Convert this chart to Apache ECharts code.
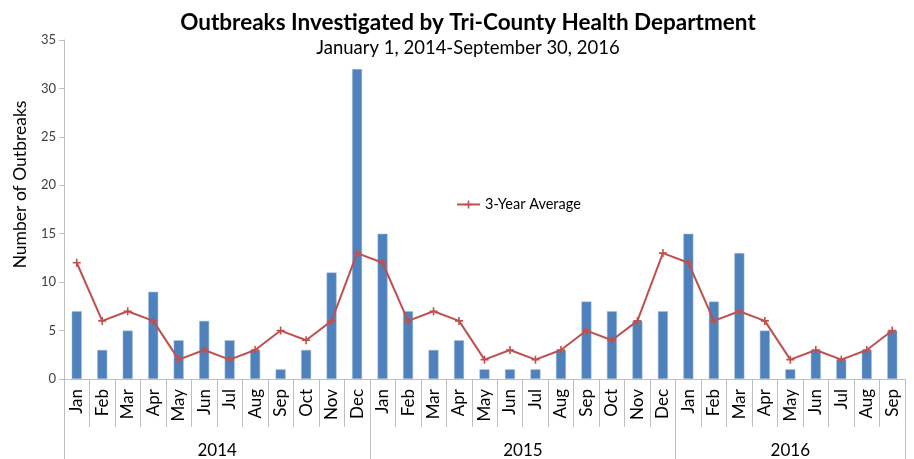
<!DOCTYPE html>
<html>
<head>
<meta charset="utf-8">
<script src="https://cdn.jsdelivr.net/npm/echarts@6/dist/echarts.min.js"></script>
<style>
  html, body { margin: 0; padding: 0; background: #fff; }
  #chart { width: 914px; height: 459px; }
</style>
</head>
<body>
<div id="chart"></div>
<script>
  var months = ["Jan", "Feb", "Mar", "Apr", "May", "Jun", "Jul", "Aug", "Sep", "Oct", "Nov", "Dec",
    "Jan", "Feb", "Mar", "Apr", "May", "Jun", "Jul", "Aug", "Sep", "Oct", "Nov", "Dec",
    "Jan", "Feb", "Mar", "Apr", "May", "Jun", "Jul", "Aug", "Sep"];
  var years = ["2014", "2015", "2016"];
  var yearStart = [0, 12, 24]; // index of first month of each year
  var outbreaks = [7, 3, 5, 9, 4, 6, 4, 3, 1, 3, 11, 32,
    15, 7, 3, 4, 1, 1, 1, 3, 8, 7, 6, 7,
    15, 8, 13, 5, 1, 3, 2, 3, 5];
  var average = [12, 6, 7, 6, 2, 3, 2, 3, 5, 4, 6, 13,
    12, 6, 7, 6, 2, 3, 2, 3, 5, 4, 6, 13,
    12, 6, 7, 6, 2, 3, 2, 3, 5];

  var font = "Lato, 'Open Sans', sans-serif";

  // year of each month, for the second (group) axis
  var yearOfMonth = months.map(function (m, i) {
    var y = 0;
    for (var k = 0; k < yearStart.length; k++) if (i >= yearStart[k]) y = k;
    return years[y];
  });
  // label the middle month of each year group
  var yearLabelIdx = yearStart.map(function (s, k) {
    var end = k + 1 < yearStart.length ? yearStart[k + 1] : months.length;
    return Math.floor((s + end - 1) / 2);
  });
  function yearEven(i) {
    var k = yearLabelIdx.indexOf(i);
    var end = k + 1 < yearStart.length ? yearStart[k + 1] : months.length;
    return (end - yearStart[k]) % 2 === 0;
  }

  var myChart = echarts.init(document.getElementById("chart"));
  var option = {
    backgroundColor: "#ffffff",
    animation: false,
    title: {
      text: "Outbreaks Investigated by Tri-County Health Department",
      subtext: "January 1, 2014-September 30, 2016",
      left: 463,
      textAlign: "center",
      top: 6,
      itemGap: 5,
      textStyle: { fontFamily: font, fontSize: 22.5, fontWeight: "bold", color: "#000" },
      subtextStyle: { fontFamily: font, fontSize: 18.5, color: "#000" }
    },
    legend: {
      data: ["3-Year Average"],
      left: 451,
      top: 192,
      itemWidth: 23,
      itemHeight: 10,
      itemGap: 3,
      textStyle: { fontFamily: font, fontSize: 14.5, color: "#000" }
    },
    grid: { left: 64, right: 9, top: 40, bottom: 80 },
    xAxis: [
      {
        type: "category",
        data: months,
        axisLine: { show: true, lineStyle: { color: "#bfbfbf" } },
        axisTick: { show: true, interval: 0, length: 48, lineStyle: { color: "#bfbfbf" } },
        axisLabel: { interval: 0, rotate: 90, margin: 10, fontFamily: font, fontSize: 17, color: "#000" }
      },
      {
        type: "category",
        data: yearOfMonth,
        position: "bottom",
        axisLine: { show: false },
        axisTick: {
          show: true,
          interval: function (i) { return yearStart.indexOf(i) >= 0; },
          length: 82,
          lineStyle: { color: "#bfbfbf" }
        },
        axisLabel: {
          interval: function (i) { return yearLabelIdx.indexOf(i) >= 0; },
          margin: 63,
          fontFamily: font,
          fontSize: 17,
          color: "#000",
          formatter: function (v, i) { return yearEven(i) ? "{s|" + v + "}" : v; },
          rich: { s: { fontFamily: font, fontSize: 17, color: "#000", padding: [0, 0, 0, 26] } }
        }
      }
    ],
    yAxis: {
      type: "value",
      min: 0,
      max: 35,
      interval: 5,
      name: "Number of Outbreaks",
      nameLocation: "middle",
      nameGap: 35,
      nameTextStyle: { fontFamily: font, fontSize: 17.5, color: "#000", padding: [0, 0, 0, 50] },
      axisLine: { show: true, lineStyle: { color: "#bfbfbf" } },
      axisTick: { show: true, length: 5, lineStyle: { color: "#bfbfbf" } },
      axisLabel: { fontFamily: font, fontSize: 13, color: "#404040", margin: 8 },
      splitLine: { show: false }
    },
    series: [
      {
        name: "Outbreaks",
        type: "bar",
        data: outbreaks,
        barWidth: 10,
        itemStyle: { color: "#4f81bd", borderColor: "#a7c0de", borderWidth: 0.5 }
      },
      {
        name: "3-Year Average",
        type: "line",
        data: average,
        symbol: "path://M4,0H6V4H10V6H6V10H4V6H0V4H4Z",
        symbolSize: 8,
        lineStyle: { color: "#c0504d", width: 2 },
        itemStyle: { color: "#c0504d" },
        z: 3
      }
    ]
  };
  myChart.setOption(option);
</script>
</body>
</html>
